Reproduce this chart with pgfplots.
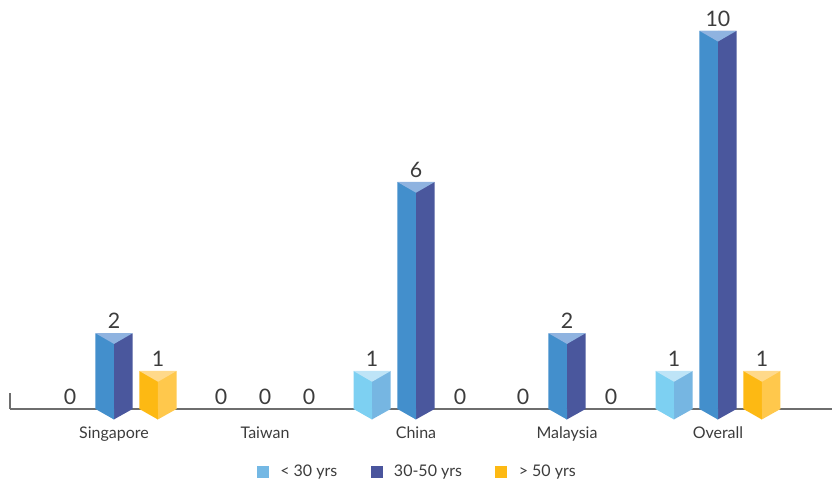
\documentclass[border=0pt]{standalone}
\usepackage{pgfplots}
\pgfplotsset{compat=1.18}
\usepackage{pgfplotstable}
\usepackage{fontspec}
\setmainfont{Lato}

\definecolor{aL}{HTML}{7DD0F2}
\definecolor{aR}{HTML}{76B6E2}
\definecolor{aT}{HTML}{BEE4F7}
\definecolor{aG}{HTML}{74B8E4}
\definecolor{bL}{HTML}{438FCC}
\definecolor{bR}{HTML}{4A579D}
\definecolor{bT}{HTML}{8FB3E0}
\definecolor{bG}{HTML}{4A559D}
\definecolor{cL}{HTML}{FDB913}
\definecolor{cR}{HTML}{FFC84C}
\definecolor{cT}{HTML}{FFD98A}
\definecolor{cG}{HTML}{FDB913}
\definecolor{axisgray}{HTML}{6E6E6E}
\definecolor{txt}{HTML}{3C3C3C}

% values of each series (all categories, for labels)
\pgfplotstableread{
x y
0 0
1 0
2 1
3 0
4 1
}\Aall
\pgfplotstableread{
x y
0 2
1 0
2 6
3 2
4 10
}\Ball
\pgfplotstableread{
x y
0 1
1 0
2 0
3 0
4 1
}\Call
% non-zero values (bars)
\pgfplotstableread{
x y
2 1
4 1
}\Abars
\pgfplotstableread{
x y
0 2
2 6
3 2
4 10
}\Bbars
\pgfplotstableread{
x y
0 1
4 1
}\Cbars

\pgfdeclareplotmark{topface}{%
  \pgfpathmoveto{\pgfqpoint{-13.95pt}{0.15pt}}%
  \pgfpathlineto{\pgfqpoint{13.95pt}{0.15pt}}%
  \pgfpathlineto{\pgfqpoint{0pt}{-7.9pt}}%
  \pgfpathclose\pgfusepathqfill}
\pgfdeclareplotmark{botleft}{%
  \pgfpathmoveto{\pgfqpoint{-13.9pt}{0.5pt}}%
  \pgfpathlineto{\pgfqpoint{-13.9pt}{0pt}}%
  \pgfpathlineto{\pgfqpoint{0pt}{-7.9pt}}%
  \pgfpathlineto{\pgfqpoint{0pt}{0.5pt}}%
  \pgfpathclose\pgfusepathqfill}
\pgfdeclareplotmark{botright}{%
  \pgfpathmoveto{\pgfqpoint{-0.2pt}{0.5pt}}%
  \pgfpathlineto{\pgfqpoint{-0.2pt}{-7.9pt}}%
  \pgfpathlineto{\pgfqpoint{13.9pt}{0pt}}%
  \pgfpathlineto{\pgfqpoint{13.9pt}{0.5pt}}%
  \pgfpathclose\pgfusepathqfill}

\newcommand\prism[5]{%
  \addplot[ybar, bar width=13.9pt, bar shift=-6.95pt, fill=#3, draw=none, forget plot]
    table[x expr=\thisrow{x}#2, y=y] {#1};
  \addplot[ybar, bar width=13.9pt, bar shift=6.95pt, fill=#4, draw=none, forget plot]
    table[x expr=\thisrow{x}#2, y=y] {#1};
  \addplot[only marks, mark=topface, mark options={fill=#5, draw=none}, forget plot]
    table[x expr=\thisrow{x}#2, y=y] {#1};
  \addplot[only marks, mark=botright, mark options={fill=#4, draw=none}, forget plot]
    table[x expr=\thisrow{x}#2, y expr=0] {#1};
  \addplot[only marks, mark=botleft, mark options={fill=#3, draw=none}, forget plot]
    table[x expr=\thisrow{x}#2, y expr=0] {#1};
}
\newcommand\labels[2]{%
  \addplot[draw=none, mark=none, forget plot, point meta=y, nodes near coords,
    nodes near coords style={font=\fontsize{16}{16}\selectfont, text=txt, anchor=south, inner sep=1pt, yshift=2.2pt}]
    table[x expr=\thisrow{x}#2, y=y] {#1};
}

\pgfplotsset{sq/.style={legend image code/.code={\fill[##1] (0pt,-4.5pt) rectangle (9pt,4.5pt);}}}

\begin{document}
\begin{tikzpicture}
\useasboundingbox (-7.5pt,-54pt) rectangle (617.25pt,306.75pt);
\begin{axis}[
  scale only axis, width=616.5pt, height=283.5pt,
  xmin=-0.689, xmax=4.755, ymin=0, ymax=10,
  clip=false,
  /pgf/number format/assume math mode=true,
  axis x line*=bottom, hide y axis,
  axis line style={draw=axisgray, line width=1pt},
  xtick={0,1,2,3,4}, xticklabels={Singapore,Taiwan,China,Malaysia,Overall},
  major tick length=0pt,
  xticklabel style={font=\fontsize{12}{13}\selectfont, text=txt, yshift=-9.5pt},
  legend style={font=\fontsize{12}{14}\selectfont, text=txt, draw=none, fill=none,
    at={(0.496,-0.166)}, anchor=center, legend columns=3,
    /tikz/every odd column/.append style={column sep=6.5pt},
    /tikz/every even column/.append style={column sep=23pt}},
]
\prism{\Abars}{-0.291}{aL}{aR}{aT}
\prism{\Bbars}{+0}{bL}{bR}{bT}
\prism{\Cbars}{+0.291}{cL}{cR}{cT}
\addplot[axisgray, line width=1pt, forget plot] coordinates {(-0.689,0) (-0.689,0.42)};
\labels{\Aall}{-0.291}
\labels{\Ball}{+0}
\labels{\Call}{+0.291}
\addlegendimage{sq, fill=aG, draw=none}
\addlegendentry{< 30 yrs}
\addlegendimage{sq, fill=bG, draw=none}
\addlegendentry{30-50 yrs}
\addlegendimage{sq, fill=cG, draw=none}
\addlegendentry{> 50 yrs}
\end{axis}
\end{tikzpicture}
\end{document}
